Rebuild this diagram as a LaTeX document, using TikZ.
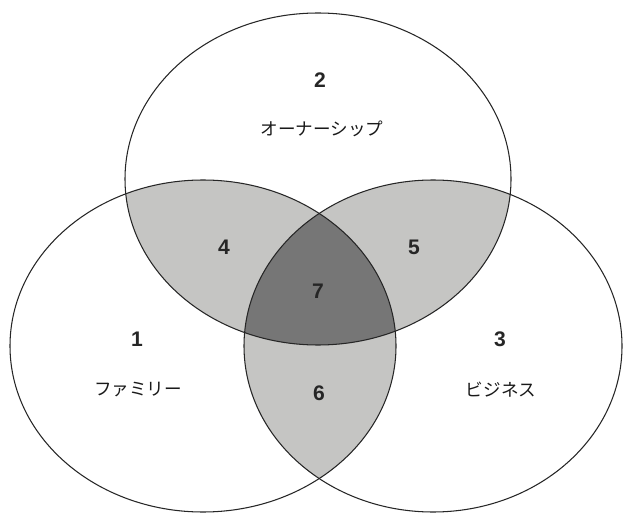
\documentclass[tikz,border=0pt]{standalone}
\usepackage{fontspec}
\setmainfont{Liberation Sans}
\newfontfamily\jpfont{Noto Sans CJK JP}
\usetikzlibrary{positioning}
\definecolor{pairgray}{RGB}{197,197,195}
\definecolor{coregray}{RGB}{118,118,118}
\newcommand{\ownerset}{(318,179) ellipse (193 and 166)}
\newcommand{\familyset}{(203,346) ellipse (193 and 166)}
\newcommand{\businessset}{(433,346) ellipse (189 and 166)}

\begin{document}
\begin{tikzpicture}[
    x=0.02cm, y=-0.02cm,
    ring/.style={draw=black!85, line width=0.6pt},
    num/.style={font=\fontsize{12}{14}\selectfont\bfseries, text=black!85, inner sep=0pt},
    lbl/.style={font=\jpfont\fontsize{10}{12}\selectfont, text=black!90, inner sep=0pt},
]
\useasboundingbox (0,0) rectangle (625,513);
\fill[white] (0,0) rectangle (625,513);

% pairwise overlaps
\begin{scope}
  \clip \ownerset;
  \fill[pairgray] \familyset;
  \fill[pairgray] \businessset;
\end{scope}
\begin{scope}
  \clip \familyset;
  \fill[pairgray] \businessset;
\end{scope}
% centre
\begin{scope}
  \clip \ownerset;
  \clip \familyset;
  \fill[coregray] \businessset;
\end{scope}

\draw[ring] \ownerset;
\draw[ring] \familyset;
\draw[ring] \businessset;

\node[num] (n2) at (320,80) {2};
\node[lbl] (owner) at (322,129) {オーナーシップ};
\node[num] (n4) at (224,247) {4};
\node[num] (n5) at (414,247) {5};
\node[num] (n7) at (318,291) {7};
\node[num] (n1) at (137,339) {1};
\node[num] (n3) at (500,339) {3};
\node[lbl] (family) at (138,390) {ファミリー};
\node[num] (n6) at (319,393) {6};
\node[lbl] (business) at (501,390) {ビジネス};
\end{tikzpicture}
\end{document}
